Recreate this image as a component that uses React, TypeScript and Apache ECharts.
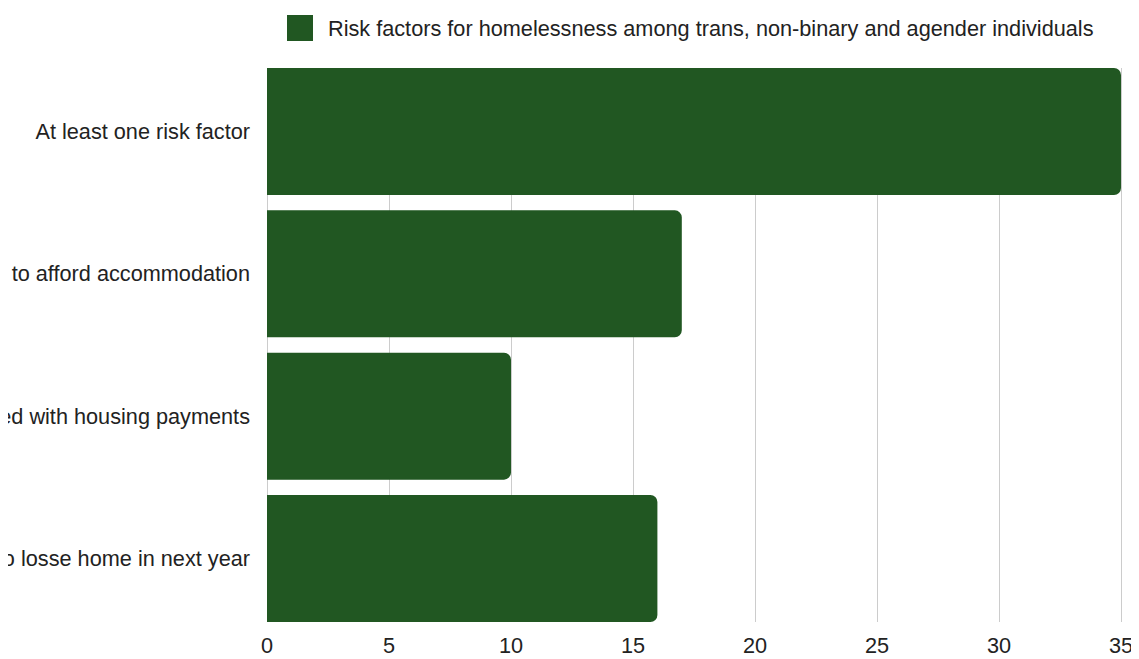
import React, { useEffect, useRef } from "react";
import * as echarts from "echarts";

const categories = [
  "At least one risk factor",
  "Unable to afford accommodation",
  "Struggled with housing payments",
  "Expect to losse home in next year",
];
const values = [35, 17, 10, 16];
const xTicks = { min: 0, max: 35, interval: 5 };
const seriesName = "Risk factors for homelessness among trans, non-binary and agender individuals";

const FONT = "Arial, 'Liberation Sans', sans-serif";
const GREEN = "#215722";
const FS = 21.7;

export default function App() {
  const ref = useRef<HTMLDivElement>(null);
  useEffect(() => {
    const chart = echarts.init(ref.current!, null, { renderer: "svg" });
    chart.setOption({
      animation: false,
      backgroundColor: "#ffffff",
      legend: {
        show: true,
        left: 279,
        top: 7,
        padding: 0,
        itemWidth: 26,
        itemHeight: 26,
        icon: "rect",
        data: [seriesName],
        textStyle: { fontFamily: FONT, fontSize: FS, color: "#222222", padding: [0, 0, 0, 10] },
      },
      grid: [
        { left: 259, right: 18, top: 60, height: 554, outerBoundsMode: "none", containLabel: false },
        { left: 259, right: 18, top: 52.33, height: 569.33, outerBoundsMode: "none", containLabel: false },
      ],
      xAxis: [
        {
          gridIndex: 0,
          type: "value",
          min: xTicks.min,
          max: xTicks.max,
          interval: xTicks.interval,
          axisLine: { show: false },
          axisTick: { show: false },
          splitLine: { show: true, lineStyle: { color: "#cccccc", width: 1 } },
          axisLabel: { fontFamily: FONT, fontSize: FS, color: "#222222", margin: 12 },
        },
        {
          gridIndex: 1,
          type: "value",
          min: xTicks.min,
          max: xTicks.max,
          interval: xTicks.interval,
          show: false,
        },
      ],
      yAxis: [
        { gridIndex: 0, type: "value", show: false },
        {
          gridIndex: 1,
          type: "category",
          inverse: true,
          data: categories,
          axisLine: { show: false },
          axisTick: { show: false },
          splitLine: { show: false },
          axisLabel: { fontFamily: FONT, fontSize: FS, color: "#222222", margin: 17 },
        },
      ],
      series: [
        {
          name: seriesName,
          type: "bar",
          xAxisIndex: 1,
          yAxisIndex: 1,
          data: values,
          barWidth: 127,
          itemStyle: { color: GREEN, borderRadius: [0, 7, 7, 0] },
        },
      ],
    });
    return () => chart.dispose();
  }, []);
  return <div ref={ref} style={{ width: 1131, height: 651 }} />;
}
